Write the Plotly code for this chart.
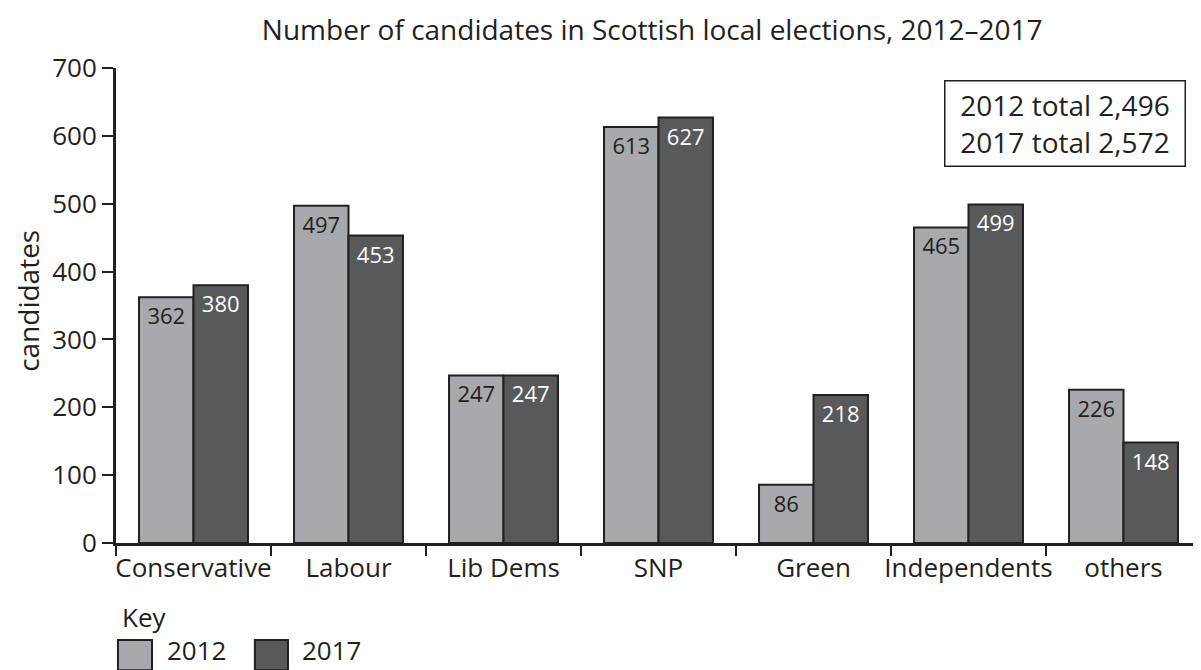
import plotly.graph_objects as go

categories = ["Conservative", "Labour", "Lib Dems", "SNP", "Green", "Independents", "others"]
values_2012 = [362, 497, 247, 613, 86, 465, 226]
values_2017 = [380, 453, 247, 627, 218, 499, 148]
series_names = ["2012", "2017"]
y_ticks = [0, 100, 200, 300, 400, 500, 600, 700]
title_text = "Number of candidates in Scottish local elections, 2012\u20132017"
totals_text = "2012 total 2,496<br>2017 total 2,572"
y_title = "candidates"
key_title = "Key"

FONT = "Open Sans"
INK = "#231f20"
LIGHT = "#a7a9ac"
DARK = "#58595b"
COLORS = [LIGHT, DARK]
LABEL_COLORS = [INK, "white"]

fig = go.Figure()
for name, vals, col, lcol in zip(series_names, [values_2012, values_2017], COLORS, LABEL_COLORS):
    fig.add_trace(go.Bar(
        x=categories, y=vals, name=name, showlegend=False,
        marker=dict(color=col, line=dict(color=INK, width=2)),
        text=[str(v) for v in vals], textposition="inside",
        insidetextanchor="end", textangle=0,
        textfont=dict(family=FONT, size=22, color=lcol),
    ))

# manual key (legend) below the chart
shapes = []
annotations = []
key_x = [[0.0018, 0.0332], [0.128, 0.1585]]
label_x = [0.045, 0.1696]
for (x0, x1), lx, col, name in zip(key_x, label_x, COLORS, series_names):
    shapes.append(dict(type="rect", xref="paper", yref="paper", x0=x0, x1=x1,
                       y0=-0.204, y1=-0.268, fillcolor=col,
                       line=dict(color=INK, width=2)))
    annotations.append(dict(text=name, xref="paper", yref="paper", x=lx, y=-0.226,
                            xanchor="left", yanchor="middle", showarrow=False,
                            font=dict(family=FONT, size=26, color=INK)))
annotations.append(dict(text=key_title, xref="paper", yref="paper", x=0.0035, y=-0.156,
                        xanchor="left", yanchor="middle", showarrow=False,
                        font=dict(family=FONT, size=26, color=INK)))
annotations.append(dict(text=y_title, xref="paper", yref="paper", x=-0.081, y=0.51,
                        xanchor="center", yanchor="middle", showarrow=False, textangle=-90,
                        font=dict(family=FONT, size=28, color=INK)))
annotations.append(dict(
    text=totals_text, xref="paper", yref="paper", x=0.986, y=0.975,
    xanchor="right", yanchor="top", showarrow=False, align="center",
    width=225, height=70,
    font=dict(family=FONT, size=28, color=INK),
    bordercolor=INK, borderwidth=1.5, borderpad=7, bgcolor="white",
))

# the page has an 8px body margin, so the figure is sized to fit the window
fig.update_layout(
    width=1193, height=662,
    margin=dict(l=108, r=0, t=60, b=127, autoexpand=False),
    paper_bgcolor="white", plot_bgcolor="white",
    bargap=0.297, bargroupgap=0,
    font=dict(family=FONT, color=INK),
    showlegend=False,
    title=dict(text=title_text, xref="container", x=0.540, xanchor="center",
               yref="container", y=0.967, yanchor="middle",
               font=dict(family=FONT, size=28, color=INK)),
    xaxis=dict(
        type="category", tickson="boundaries", ticks="outside", ticklen=10,
        tickwidth=2, tickcolor=INK, showline=True, linecolor=INK, linewidth=3,
        tickangle=0,
        tickfont=dict(family=FONT, size=26, color=INK), showgrid=False,
        zeroline=False,
    ),
    yaxis=dict(
        range=[0, 700], tickvals=y_ticks, ticks="outside", ticklen=11,
        tickwidth=2, tickcolor=INK, showline=True, linecolor=INK, linewidth=3,
        tickfont=dict(family=FONT, size=26, color=INK), showgrid=False,
        zeroline=False,
    ),
    shapes=shapes,
    annotations=annotations,
)

fig.write_html("out.html")
